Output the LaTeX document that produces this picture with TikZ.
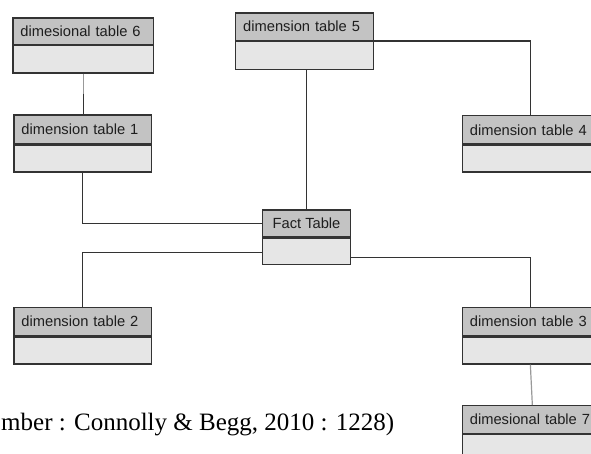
\documentclass[tikz,border=0pt]{standalone}
\usepackage{fontspec}
\setmainfont{Liberation Serif}
\newfontfamily\boxfont{Liberation Sans}
\definecolor{headfill}{HTML}{C3C3C3}
\definecolor{bodyfill}{HTML}{E6E6E6}
\definecolor{edge}{HTML}{333333}
\definecolor{boxtext}{HTML}{1E1E1E}
\tikzset{
  tabhead/.style={draw=edge, fill=headfill, line width=1.3pt, inner xsep=7.5pt, inner ysep=0pt,
    align=left, font=\boxfont\fontsize{14.7}{17}\selectfont, text=boxtext},
  tabbody/.style={draw=edge, fill=bodyfill, line width=1.3pt, inner sep=0pt},
  link/.style={draw=edge, line width=1.2pt},
  softlink/.style={draw=gray!80, line width=1.2pt}
}
% name, x, y, width, header height, body height, title
\newcommand\dimtable[7]{%
  \pgfmathsetmacro\tabtw{#4-15}%
  \node[tabhead, text width=\tabtw pt, minimum height=#5pt, anchor=north west] (#1h) at (#2,#3) {\mbox{#7}};
  \node[tabbody, minimum width=#4pt, minimum height=#6pt, anchor=north west] (#1) at (#1h.south west) {};
}
\begin{document}
\begin{tikzpicture}[x=1pt, y=-1pt]
\useasboundingbox (0,0) rectangle (591,453);

\dimtable{tsix}{12.3}{17.3}{140.7}{26.4}{27.3}{dimesional table 6}
\dimtable{tone}{13.3}{114.3}{137.4}{29}{26.7}{dimension table 1}
\dimtable{tfive}{235}{12.3}{137.7}{27.4}{28}{dimension table 5}
\dimtable{tfour}{461.7}{115}{137}{28.3}{26.7}{dimension table 4}
\dimtable{ttwo}{13.3}{306.7}{137.4}{28.3}{27}{dimension table 2}
\dimtable{tthree}{461.7}{306.7}{137}{28.3}{27}{dimension table 3}
\dimtable{tseven}{461.7}{405}{137}{27.7}{27}{dimesional table 7}

% fact table
\node[tabhead, minimum width=88.3pt, minimum height=26.7pt, anchor=north west, align=center]
  (facth) at (261.7,209.3) {Fact Table};
\node[tabbody, minimum width=88.3pt, minimum height=26.7pt, anchor=north west]
  (fact) at (facth.south west) {};

% connectors
\draw[softlink] (tsix.south) -- (tsix.south |- toneh.north);
\draw[link] ([yshift=-20pt]tsix.south) -- (tsix.south |- toneh.north);
\draw[link] (tone.south) |- (facth.west);
\draw[link] (facth.north |- tfive.south) -- (facth.north);
\draw[link] (tfiveh.south east) -| (tfourh.north);
\draw[link] ([yshift=-1.5pt]fact.west) -| (ttwoh.north);
\draw[link] ([yshift=-6pt]fact.east) -| (tthreeh.north);
\draw[softlink] ([xshift=-0.5pt]tthree.south) -- ([xshift=1.5pt]tsevenh.north);

% source line
\node[anchor=base west, font=\fontsize{25}{28}\selectfont, inner sep=0pt] (src) at (1,430.7)
  {mber : Connolly \& Begg, 2010 : 1228)};
\end{tikzpicture}
\end{document}
